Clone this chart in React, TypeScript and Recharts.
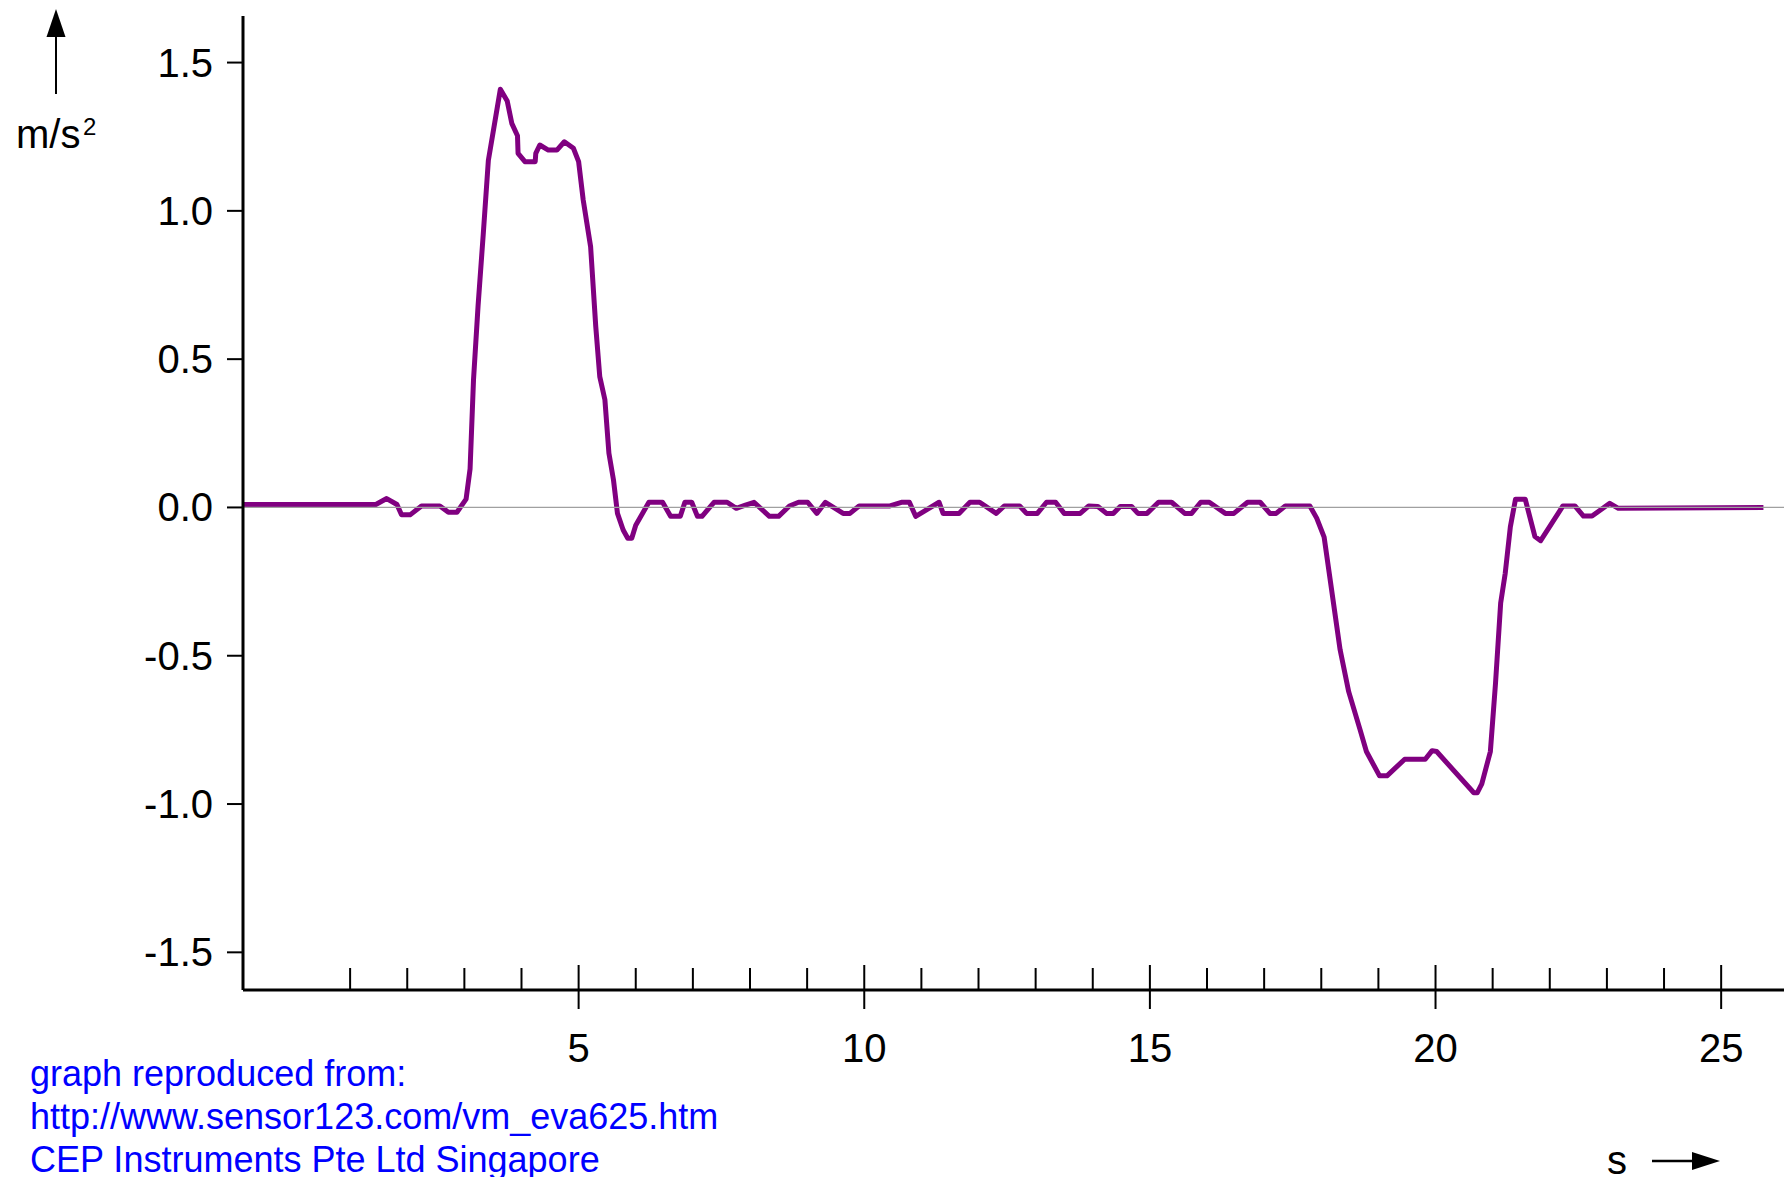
import React from 'react';
import { LineChart, Line, XAxis, YAxis, ReferenceLine } from 'recharts';

// time in seconds
const times = [
  -0.87, 1.45, 1.64, 1.82, 1.9, 2.05, 2.25, 2.57, 2.72, 2.87,
  3.03, 3.1, 3.16, 3.24, 3.33, 3.42, 3.63, 3.75, 3.83, 3.93,
  3.94, 4.06, 4.24, 4.25, 4.32, 4.47, 4.62, 4.75, 4.91, 5.0,
  5.08, 5.21, 5.3, 5.37, 5.46, 5.53, 5.61, 5.68, 5.78, 5.86,
  5.93, 6.0, 6.23, 6.47, 6.61, 6.78, 6.86, 6.98, 7.08, 7.16,
  7.37, 7.6, 7.76, 7.92, 8.07, 8.34, 8.5, 8.69, 8.85, 9.01,
  9.17, 9.32, 9.63, 9.75, 9.91, 10.45, 10.65, 10.79, 10.9, 11.31,
  11.38, 11.66, 11.85, 12.02, 12.31, 12.45, 12.72, 12.84, 13.03, 13.19,
  13.35, 13.5, 13.78, 13.93, 14.09, 14.24, 14.36, 14.48, 14.68, 14.79,
  14.95, 15.15, 15.38, 15.61, 15.73, 15.89, 16.04, 16.32, 16.47, 16.71,
  16.93, 17.1, 17.21, 17.37, 17.8, 17.92, 18.05, 18.33,
  18.48, 18.68, 18.79, 19.02, 19.15, 19.46, 19.82, 19.94, 20.02, 20.67,
  20.73, 20.81, 20.96, 21.05, 21.14, 21.22, 21.31, 21.4, 21.57, 21.74,
  21.84, 22.23, 22.44, 22.59, 22.74, 23.05, 23.2, 25.74,
];

// acceleration in m/s^2
const accel = [
  0.01, 0.01, 0.03, 0.01, -0.025, -0.025, 0.005, 0.005, -0.016, -0.016,
  0.028, 0.13, 0.43, 0.68, 0.92, 1.17, 1.41, 1.37, 1.295, 1.253,
  1.194, 1.166, 1.166, 1.194, 1.222, 1.205, 1.205, 1.233, 1.211, 1.166,
  1.037, 0.879, 0.61, 0.441, 0.363, 0.183, 0.093, -0.02, -0.076, -0.104,
  -0.104, -0.06, 0.0175, 0.0175, -0.03, -0.03, 0.0175, 0.0175, -0.03, -0.03,
  0.0175, 0.0175, -0.003, 0.008, 0.0175, -0.03, -0.03, 0.005, 0.0175, 0.0175,
  -0.02, 0.0175, -0.02, -0.02, 0.005, 0.005, 0.0175, 0.0175, -0.03, 0.0175,
  -0.02, -0.02, 0.0175, 0.0175, -0.02, 0.005, 0.005, -0.02, -0.02, 0.0175,
  0.0175, -0.02, -0.02, 0.005, 0.003, -0.02, -0.02, 0.003, 0.003, -0.02,
  -0.02, 0.0175, 0.0175, -0.02, -0.02, 0.0175, 0.0175, -0.02, -0.02, 0.0175,
  0.0175, -0.02, -0.02, 0.005, 0.005, -0.036, -0.1, -0.48,
  -0.621, -0.75, -0.823, -0.905, -0.905, -0.849, -0.849, -0.82, -0.823, -0.962,
  -0.962, -0.932, -0.823, -0.593, -0.323, -0.222, -0.065, 0.028, 0.028, -0.098,
  -0.112, 0.005, 0.005, -0.029, -0.029, 0.014, -0.003, 0.0,
];

const yTicks = [-1.5, -1.0, -0.5, 0, 0.5, 1.0, 1.5];
const xTicks = [1, 2, 3, 4, 5, 6, 7, 8, 9, 10, 11, 12, 13, 14, 15, 16, 17, 18, 19, 20, 21, 22, 23, 24, 25];
const xLabelTicks = [5, 10, 15, 20, 25];
const yUnit = 'm/s';
const yUnitSup = '2';
const xUnit = 's';
const creditLines = [
  'graph reproduced from:',
  'http://www.sensor123.com/vm_eva625.htm',
  'CEP Instruments Pte Ltd Singapore',
];

const data = times.map((t, i) => ({ t, a: accel[i] }));

const FONT = '"Liberation Sans", Arial, Helvetica, sans-serif';

const XTick = (props: any) => {
  const { x, y, payload } = props;
  const v = payload.value;
  const major = xLabelTicks.includes(v);
  return (
    <g>
      <line
        x1={x}
        x2={x}
        y1={y - (major ? 25 : 22)}
        y2={major ? y + 19 : y}
        stroke="#000"
        strokeWidth={2}
      />
      {major && (
        <text x={x} y={y + 72} textAnchor="middle" fontSize={40} fontFamily={FONT} fill="#000">
          {v}
        </text>
      )}
    </g>
  );
};

const YTick = (props: any) => {
  const { x, y, payload } = props;
  return (
    <text x={x} y={y + 14} textAnchor="end" fontSize={40} fontFamily={FONT} fill="#000">
      {Number(payload.value).toFixed(1)}
    </text>
  );
};

export default function App() {
  return (
    <div style={{ position: 'absolute', left: 0, top: 0, width: 1790, height: 1177, background: '#fff' }}>
      <LineChart
        width={1790}
        height={1177}
        data={data}
        margin={{ top: 16, right: 6, bottom: 127, left: 163 }}
      >
        <XAxis
          dataKey="t"
          type="number"
          domain={[-0.875, 26.1]}
          ticks={xTicks}
          interval={0}
          allowDataOverflow
          tickSize={0}
          tickMargin={0}
          tickLine={false}
          height={60}
          axisLine={{ stroke: '#000', strokeWidth: 3 }}
          tick={<XTick />}
        />
        <YAxis
          type="number"
          domain={[-1.627, 1.657]}
          ticks={yTicks}
          interval={0}
          allowDataOverflow
          width={80}
          tickSize={16}
          tickMargin={14}
          tickLine={{ stroke: '#000', strokeWidth: 2 }}
          axisLine={{ stroke: '#000', strokeWidth: 3 }}
          tick={<YTick />}
        />
        <Line
          type="linear"
          dataKey="a"
          stroke="#800080"
          strokeWidth={5}
          strokeLinejoin="round"
          dot={false}
          activeDot={false}
          isAnimationActive={false}
        />
        <ReferenceLine y={0} stroke="#a0a0a0" strokeWidth={1.2} />
      </LineChart>
      <svg
        width={1790}
        height={1177}
        style={{ position: 'absolute', left: 0, top: 0, pointerEvents: 'none' }}
      >
        {/* y unit arrow */}
        <polygon points="56,9 46.5,37 65.5,37" fill="#000" />
        <line x1={56} x2={56} y1={36} y2={94} stroke="#000" strokeWidth={2} />
        <text x={16} y={148} fontSize={40} fontFamily={FONT} fill="#000">
          {yUnit}
        </text>
        <text x={83} y={135} fontSize={24} fontFamily={FONT} fill="#000">
          {yUnitSup}
        </text>
        {/* x unit arrow */}
        <text x={1607} y={1174} fontSize={40} fontFamily={FONT} fill="#000">
          {xUnit}
        </text>
        <line x1={1652} x2={1694} y1={1161} y2={1161} stroke="#000" strokeWidth={2.5} />
        <polygon points="1692,1152 1720,1161 1692,1170" fill="#000" />
        {creditLines.map((s, i) => (
          <text key={i} x={30} y={1086 + i * 43} fontSize={36} fontFamily={FONT} fill="#0000ff">
            {s}
          </text>
        ))}
      </svg>
    </div>
  );
}
